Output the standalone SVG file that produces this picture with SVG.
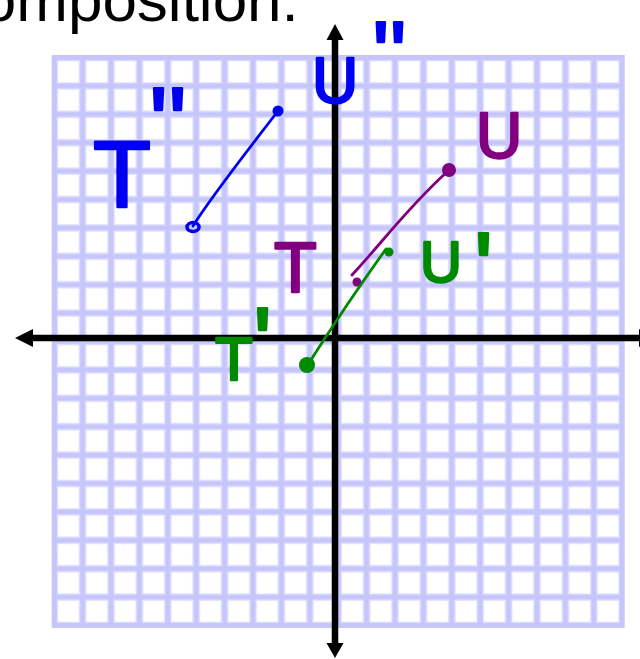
<svg xmlns="http://www.w3.org/2000/svg" width="640" height="659" viewBox="0 0 640 659">
<defs>
<style>
.title{font-family:"Liberation Sans",Arial,sans-serif;font-size:62px;fill:#000}
.hand{font-family:"Liberation Sans",Arial,sans-serif;stroke-width:2.5;stroke-linejoin:round}
.ax{stroke:#000;stroke-width:6.5;fill:none}
.ink{fill:none;stroke-linecap:round;stroke-linejoin:round}
</style>
<pattern id="grid" x="54.2" y="57.5" width="28.4" height="28.4" patternUnits="userSpaceOnUse">
<rect x="0" y="0" width="28.4" height="28.4" fill="#fff"/>
<path d="M0,0H28.4M0,0V28.4M0,28.4H28.4M28.4,0V28.4" stroke="#e4e4ff" stroke-width="8"/>
<path d="M0,0H28.4M0,0V28.4M0,28.4H28.4M28.4,0V28.4" stroke="#c6c6fc" stroke-width="5"/>
</pattern>
</defs>
<rect width="640" height="659" fill="#fff"/>
<text class="title" x="-63" y="21">Composition:</text>
<g id="grid-paper">
<rect x="54.2" y="57.5" width="568" height="568" fill="url(#grid)" stroke="#c6c6fc" stroke-width="5"/>
</g>
<g id="axes">
<path class="ax" d="M30,338H640"/>
<path class="ax" d="M335,38V645"/>
<polygon points="15,338 33,329 33,347" fill="#000"/>
<polygon points="639,329 655,338 639,347" fill="#000"/>
<polygon points="335,24 326.5,40 343.5,40" fill="#000"/>
<polygon points="335,658 326.5,643 343.5,643" fill="#000"/>
</g>
<g id="segment-TU-double">
<path class="ink" d="M193,226 C206,205 240,160 278,111" stroke="#0000f0" stroke-width="2.8"/>
<ellipse cx="193" cy="227" rx="6" ry="4.5" fill="none" stroke="#0000f0" stroke-width="3.5"/>
<circle cx="278" cy="111" r="5.5" fill="#0000f0"/>
<text class="hand" x="93" y="207" font-size="95" fill="#0000f0" stroke="#0000f0">T<tspan font-size="100" dx="-2" dy="-50">''</tspan></text>
<text class="hand" x="312" y="103" font-size="64" fill="#0000f0" stroke="#0000f0">U<tspan font-size="90" dx="14" dy="-18">''</tspan></text>
</g>
<g id="segment-TU">
<path class="ink" d="M352,275 C380,245 410,205 447,172" stroke="#800080" stroke-width="2.8"/>
<circle cx="449" cy="170" r="7" fill="#800080"/>
<circle cx="357" cy="282" r="4.5" fill="#800080"/>
<text class="hand" x="274" y="292" font-size="70" fill="#800080" stroke="#800080">T</text>
<text class="hand" x="476" y="158" font-size="64" fill="#800080" stroke="#800080">U</text>
</g>
<g id="segment-TU-prime">
<path class="ink" d="M307,366 C330,330 360,285 386,249" stroke="#008a00" stroke-width="2.8"/>
<circle cx="307" cy="365" r="8" fill="#008a00"/>
<circle cx="389" cy="252" r="4.5" fill="#008a00"/>
<text class="hand" x="215" y="380" font-size="62" fill="#008a00" stroke="#008a00">T<tspan font-size="100" dy="-3">'</tspan></text>
<text class="hand" x="420" y="282" font-size="58" fill="#008a00" stroke="#008a00">U<tspan font-size="100" dx="12" dy="20">'</tspan></text>
</g>
</svg>
